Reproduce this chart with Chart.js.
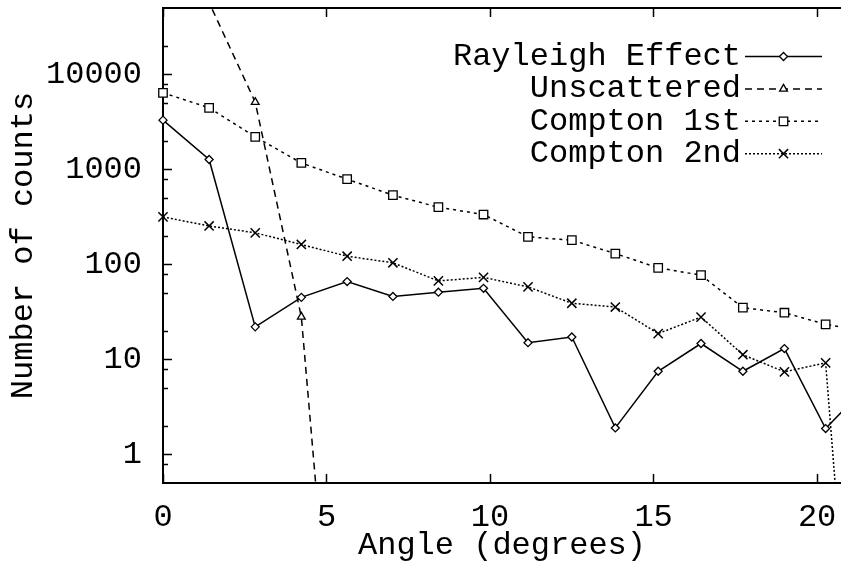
<!DOCTYPE html>
<html>
<head>
<meta charset="utf-8">
<script src="https://cdn.jsdelivr.net/npm/chart.js@4.4.1/dist/chart.umd.min.js"></script>
<style>
  html, body { margin: 0; padding: 0; background: #fff; overflow: hidden; }
  #wrap { width: 841px; height: 563px; }
</style>
</head>
<body>
<div id="wrap"><canvas id="chart"></canvas></div>
<script>
// detector angles (degrees), last one sits just past the right edge
const angles = [0, 1.41, 2.82, 4.23, 5.63, 7.03, 8.42, 9.80, 11.16, 12.50, 13.83, 15.14, 16.45, 17.73, 19.00, 20.26, 21.52];
const rayleigh = [3300, 1270, 22, 45, 66, 46, 51, 56, 15, 17.2, 1.9, 7.5, 14.7, 7.5, 13, 1.87, 5.3];
const unscattered = [250000, 57000, 5100, 28, 0.00007];
const compton1 = [6400, 4450, 2200, 1170, 790, 535, 400, 335, 195, 180, 130, 92, 77, 35, 31, 23.4, 19.5];
const compton2 = [316, 254, 215, 162, 122, 104, 67, 73, 58, 39, 35.6, 18.7, 27.9, 11.2, 7.4, 9.2, 0.00003];

const xTicks = [0, 5, 10, 15, 20];
const yTicks = [1, 10, 100, 1000, 10000];
const yMinorTicks = [0.8, 2, 5, 8, 20, 50, 80, 200, 500, 800, 2000, 5000, 8000, 20000];

const FONT = '"Liberation Mono", "Courier New", monospace';
const FS = 32;

function pts(vals) {
  return vals.map((v, i) => ({ x: angles[i], y: v }));
}

// fixed box sizes, no extra room for overhanging labels
function fixSize(w, h) {
  return s => {
    if (w != null) s.width = w;
    if (h != null) s.height = h;
    s.paddingLeft = s.paddingRight = s.paddingTop = s.paddingBottom = 0;
  };
}

const common = {
  borderColor: '#000',
  borderWidth: 1.5,
  pointBackgroundColor: '#fff',
  pointBorderColor: '#000',
  pointBorderWidth: 1.3,
  tension: 0,
  fill: false,
  clip: { left: 8, top: 0, right: 0, bottom: 0 }
};

// minor y ticks + gnuplot style key (text, line sample, marker)
const decor = {
  id: 'decor',
  afterDatasetsDraw(chart) {
    const { ctx, chartArea: a, scales: { y } } = chart;
    ctx.save();
    ctx.strokeStyle = '#000';
    ctx.lineWidth = 1.5;
    ctx.beginPath();
    yMinorTicks.forEach(v => {
      const py = Math.round(y.getPixelForValue(v)) + 0.5;
      ctx.moveTo(a.left, py);
      ctx.lineTo(a.left + 5, py);
    });
    ctx.stroke();

    ctx.font = FS + 'px ' + FONT;
    ctx.textAlign = 'right';
    ctx.textBaseline = 'middle';
    chart.data.datasets.forEach((ds, i) => {
      const yy = a.top + 48.5 + i * 32.4;
      const x1 = a.right - 96, x2 = a.right - 19;
      ctx.fillStyle = '#000';
      ctx.fillText(ds.label, x1 - 4, yy);
      ctx.setLineDash(ds.borderDash || []);
      ctx.lineWidth = ds.borderWidth;
      ctx.beginPath();
      ctx.moveTo(x1, yy);
      ctx.lineTo(x2, yy);
      ctx.stroke();
      ctx.setLineDash([]);
      ctx.fillStyle = '#fff';
      ctx.lineWidth = ds.pointBorderWidth;
      Chart.helpers.drawPoint(ctx, {
        pointStyle: ds.pointStyle, radius: ds.pointRadius, rotation: 0, borderWidth: ds.pointBorderWidth
      }, (x1 + x2) / 2, yy);
    });
    ctx.restore();
  }
};

Chart.defaults.font.family = FONT;
Chart.defaults.font.size = FS;
Chart.defaults.color = '#000';

new Chart(document.getElementById('chart'), {
  type: 'line',
  data: {
    datasets: [
      Object.assign({}, common, { label: 'Rayleigh Effect', data: pts(rayleigh), pointStyle: 'rectRot', pointRadius: 4 }),
      Object.assign({}, common, { label: 'Unscattered', data: pts(unscattered), borderDash: [7, 5], pointStyle: 'triangle', pointRadius: 4.5 }),
      Object.assign({}, common, { label: 'Compton 1st', data: pts(compton1), borderDash: [3, 4], pointStyle: 'rect', pointRadius: 6 }),
      Object.assign({}, common, { label: 'Compton 2nd', data: pts(compton2), borderDash: [2, 2], pointStyle: 'crossRot', pointRadius: 6.5, pointBorderWidth: 1.5 })
    ]
  },
  options: {
    responsive: true,
    maintainAspectRatio: false,
    animation: false,
    events: [],
    layout: { padding: 0, autoPadding: false },
    plugins: { legend: { display: false }, tooltip: { enabled: false } },
    scales: {
      x: {
        type: 'linear',
        position: 'bottom',
        min: 0,
        max: 20.73,
        afterBuildTicks: s => { s.ticks = xTicks.map(v => ({ value: v })); },
        afterFit: fixSize(null, 80),
        ticks: { padding: 24, maxRotation: 0, autoSkip: false, callback: v => String(v) },
        grid: { drawOnChartArea: false, tickLength: -9, tickWidth: 1.5, tickColor: '#000' },
        border: { color: '#000', width: 2 },
        title: { display: true, text: 'Angle (degrees)', font: { size: FS, lineHeight: 1 }, padding: { top: 0, bottom: 1 } }
      },
      x2: {
        type: 'linear',
        position: 'top',
        min: 0,
        max: 20.73,
        afterBuildTicks: s => { s.ticks = xTicks.map(v => ({ value: v })); },
        afterFit: fixSize(null, 8),
        ticks: { display: false },
        grid: { drawOnChartArea: false, tickLength: -9, tickWidth: 1.5, tickColor: '#000' },
        border: { color: '#000', width: 2 }
      },
      y: {
        type: 'logarithmic',
        min: 0.5,
        max: 50000,
        afterBuildTicks: s => { s.ticks = yTicks.map(v => ({ value: v })); },
        afterFit: fixSize(163, null),
        ticks: { padding: 30, autoSkip: false, callback: v => String(v) },
        grid: { drawOnChartArea: false, tickLength: -9, tickWidth: 1.5, tickColor: '#000' },
        border: { color: '#000', width: 2 },
        title: { display: true, text: 'Number of counts', font: { size: FS, lineHeight: 1 }, padding: { top: 8, bottom: 0 } }
      }
    }
  },
  plugins: [decor]
});
</script>
</body>
</html>
